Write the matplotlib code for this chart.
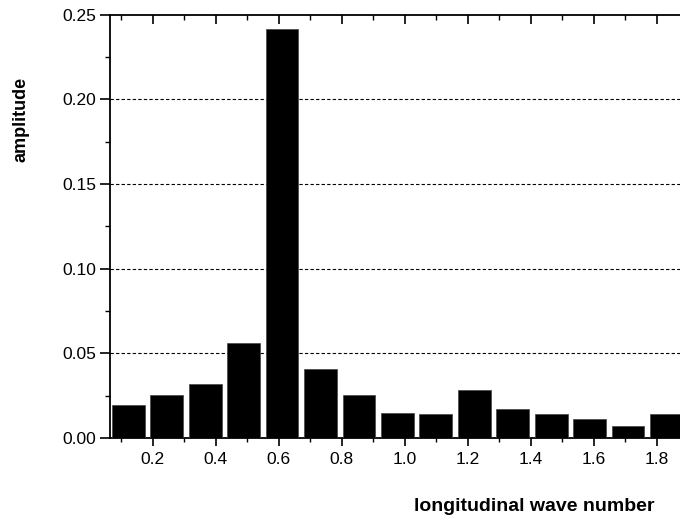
import matplotlib
matplotlib.use("Agg")
import matplotlib.pyplot as plt
from matplotlib.ticker import MultipleLocator

# data
wave_number = [0.122, 0.244, 0.366, 0.488, 0.610, 0.732, 0.854, 0.976,
               1.098, 1.220, 1.342, 1.464, 1.586, 1.708, 1.830]
amplitude = [0.0195, 0.0252, 0.0317, 0.0559, 0.2416, 0.0405, 0.0252, 0.0146,
             0.0142, 0.0283, 0.0171, 0.0140, 0.0110, 0.0071, 0.0140]
x_ticks = [0.2, 0.4, 0.6, 0.8, 1.0, 1.2, 1.4, 1.6, 1.8]
y_ticks = [0.00, 0.05, 0.10, 0.15, 0.20, 0.25]

plt.rcParams['font.family'] = ['Liberation Sans', 'DejaVu Sans']

fig = plt.figure(figsize=(6.8, 5.2), dpi=100)
ax = fig.add_axes([110/680, 1 - 438/520, 1 - 110/680, (438 - 14.7)/520])

ax.bar(wave_number, amplitude, width=0.104, color='black', edgecolor='#444444',
       linewidth=0.5, zorder=3)

ax.set_xlim(0.064, 1.873)
ax.set_ylim(0, 0.25)
ax.set_xticks(x_ticks)
ax.set_xticklabels([f"{v:.1f}" for v in x_ticks])
ax.set_yticks(y_ticks)
ax.set_yticklabels([f"{v:.2f}" for v in y_ticks])
ax.xaxis.set_minor_locator(MultipleLocator(0.1))
ax.yaxis.set_minor_locator(MultipleLocator(0.025))

for yv in y_ticks[1:-1]:
    ax.axhline(yv, color='black', linestyle=(0, (3, 2)), linewidth=0.8, zorder=1)

ax.spines['right'].set_visible(False)
for s in ['left', 'bottom', 'top']:
    ax.spines[s].set_linewidth(1.3)

ax.tick_params(axis='x', which='major', direction='out', length=6, width=1.2,
               labelsize=12.5, pad=4, top=False)
ax.tick_params(axis='x', which='minor', direction='out', length=3, width=1.0, top=False)
ax.tick_params(axis='y', which='major', direction='out', length=7, width=1.2,
               labelsize=12.5, pad=3, right=False)
ax.tick_params(axis='y', which='minor', direction='out', length=3.5, width=1.0, right=False)

# top mirrored ticks pointing inward
top = ax.secondary_xaxis('top')
top.set_xticks(x_ticks)
top.set_xticklabels([])
top.xaxis.set_minor_locator(MultipleLocator(0.1))
top.tick_params(which='major', direction='in', length=6.5, width=1.2)
top.tick_params(which='minor', direction='in', length=3.5, width=1.0)
top.spines['top'].set_visible(False)

fig.text(21.5/680, 1 - 119/520, 'amplitude', rotation=90, ha='center', va='center',
         fontsize=13, fontweight='bold')
fig.text(534/680, 1 - 511/520, 'longitudinal wave number', ha='center', va='baseline',
         fontsize=14, fontweight='bold')

fig.savefig('out.png', dpi=100)
